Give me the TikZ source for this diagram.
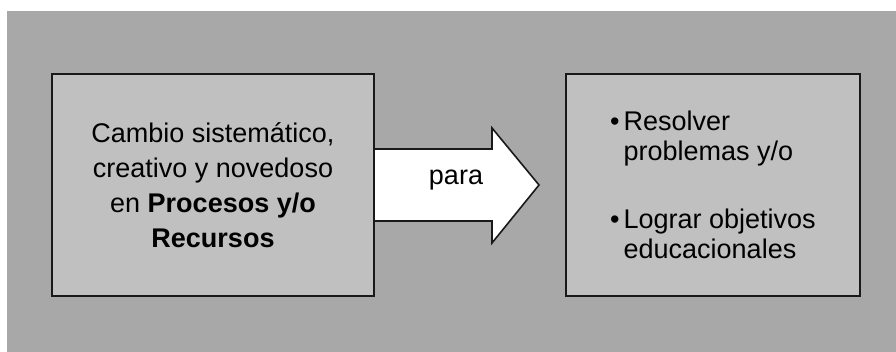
\documentclass[tikz,border=0pt]{standalone}
\usepackage{fontspec}
\setmainfont{Liberation Sans}
\usetikzlibrary{positioning}
\definecolor{bggray}{RGB}{168,168,168}
\definecolor{boxgray}{RGB}{192,192,192}
\tikzstyle{bx}=[%
      rectangle, draw=black!90, line width=2pt, fill=boxgray,
      minimum height=222pt, inner sep=0pt, align=center,
      font=\fontsize{27}{35}\selectfont
]
\tikzstyle{arw}=[%
      draw=black!90, line width=1.6pt, fill=white, line join=miter
]
\newcommand{\punto}{\textbullet\hspace{4pt}}
\newcommand{\sinpunto}{\hphantom{\textbullet}\hspace{4pt}}
\begin{document}
\begin{tikzpicture}[x=1pt, y=-1pt]
\useasboundingbox (0,0) rectangle (896,352);
\fill[bggray] (7,11) rectangle (896,352);

% flecha
\draw[arw] (374,149) -- (492,149) -- (492,128) -- (539,185)
  -- (492,243) -- (492,221) -- (374,221) -- cycle;

\node[bx, minimum width=322pt](cambio) at (213,185){Cambio sistemático,\\creativo y novedoso\\en \textbf{Procesos y/o}\\\textbf{Recursos}};
\node[bx, minimum width=294pt, right=190pt of cambio, align=left,
      font=\fontsize{27}{30}\selectfont](fines){%
  \punto Resolver\\
  \sinpunto problemas y/o\\[38pt]
  \punto Lograr objetivos\\
  \sinpunto educacionales};

\node[font=\fontsize{27}{35}\selectfont](para) at (456,180){para};
\end{tikzpicture}
\end{document}
